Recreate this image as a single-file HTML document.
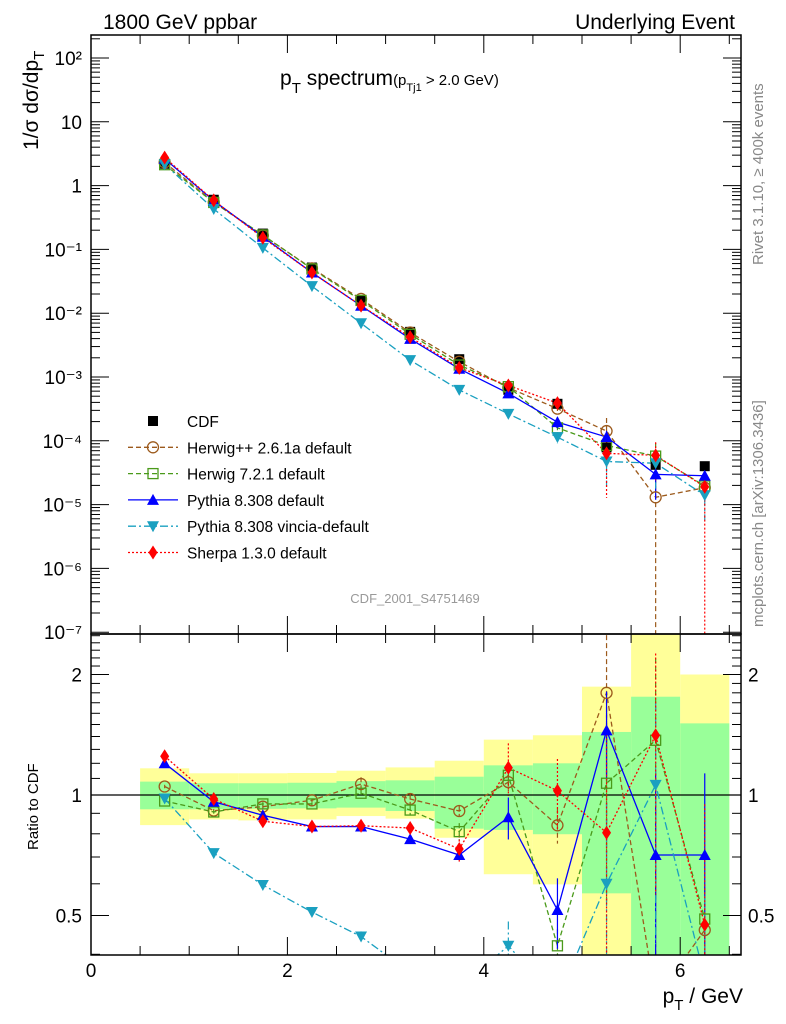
<!DOCTYPE html>
<html><head><meta charset="utf-8"><style>
html,body{margin:0;padding:0;background:#fff;width:786px;height:1024px;overflow:hidden}
svg{display:block;font-family:"Liberation Sans",sans-serif;overflow:hidden}
</style></head><body>
<svg id="c" width="786" height="1024" viewBox="0 0 786 1024" xmlns="http://www.w3.org/2000/svg">
<text x="103" y="29" font-size="21">1800 GeV ppbar</text>
<text x="735" y="29" font-size="21" text-anchor="end">Underlying Event</text>
<text x="280" y="85" font-size="21">p<tspan font-size="15" dy="8">T</tspan><tspan dy="-8"> spectrum</tspan><tspan font-size="15">(p</tspan><tspan font-size="11" dy="6">Tj1</tspan><tspan font-size="15" dy="-6"> &gt; 2.0 GeV)</tspan></text>
<text transform="translate(38,150) rotate(-90)" font-size="21">1/σ dσ/dp<tspan font-size="15" dy="6">T</tspan></text>
<text transform="translate(763,265) rotate(-90)" font-size="15" fill="#888">Rivet 3.1.10, ≥ 400k events</text>
<text transform="translate(763,627) rotate(-90)" font-size="15" fill="#888">mcplots.cern.ch [arXiv:1306.3436]</text>
<text x="415" y="603" font-size="13" fill="#999" text-anchor="middle">CDF_2001_S4751469</text>
<text transform="translate(38,850) rotate(-90)" font-size="15">Ratio to CDF</text>
<text x="743" y="1003" font-size="21" text-anchor="end">p<tspan font-size="15" dy="7">T</tspan><tspan dy="-7"> / GeV</tspan></text>
<g id="g"></g>
</svg>
<script>
const bins=[0.75,1.25,1.75,2.25,2.75,3.25,3.75,4.25,4.75,5.25,5.75,6.25];
const cdf=[2.2,0.6,0.177,0.052,0.0157,0.0051,0.0019,6.3e-4,3.8e-4,7.9e-5,4.2e-5,4.0e-5];
const rHerwigpp=[1.05,0.914,0.935,0.97,1.065,0.977,0.912,1.077,0.84,1.80,0.31,0.46];
const rHerwig7=[0.966,0.907,0.95,0.95,1.01,0.917,0.81,1.12,0.42,1.07,1.37,0.49];
const rPythia=[1.20,0.962,0.89,0.834,0.834,0.776,0.708,0.88,0.516,1.45,0.708,0.708];
const rVincia=[0.98,0.716,0.596,0.51,0.443,0.36,0.33,0.42,0.3,0.60,1.06,0.35];
const rSherpa=[1.25,0.977,0.86,0.834,0.838,0.827,0.733,1.17,1.025,0.805,1.41,0.474];
const eHerwigpp=[0.01,0.01,0.01,0.01,0.04,0.03,0.03,0.05,0.1,0.6,1.0,0.1];
const eHerwig7=[0.01,0.01,0.01,0.01,0.02,0.03,0.05,0.05,0.1,0.5,0.6,0.2];
const ePythia=[0.01,0.01,0.01,0.01,0.01,0.02,0.03,0.12,0.2,0.25,0.6,0.6];
const eVincia=[0.01,0.01,0.01,0.01,0.03,0.03,0.05,0.15,0.2,0.6,0.6,0.6];
const eSherpa=[0.01,0.01,0.02,0.01,0.03,0.03,0.08,0.15,0.2,0.8,0.6,1.0];
const yellowUp=[1.166,1.133,1.133,1.135,1.15,1.172,1.218,1.375,1.41,1.865,2.6,2.0];
const yellowDn=[0.841,0.869,0.864,0.869,0.886,0.873,0.782,0.634,0.598,0.3,0.3,0.5];
const greenUp=[1.08,1.07,1.07,1.073,1.083,1.088,1.111,1.186,1.2,1.437,1.76,1.51];
const greenDn=[0.921,0.921,0.924,0.926,0.93,0.912,0.824,0.818,0.798,0.568,0.3,0.3];
const yTickLabels=["10²","10","1","10⁻¹","10⁻²","10⁻³","10⁻⁴","10⁻⁵","10⁻⁶","10⁻⁷"];
const xTickLabels=["0","2","4","6"];

const NS="http://www.w3.org/2000/svg",G=document.getElementById('g');
const L=91,R=741,MT=35,MB=634,RT=634,RB=955;
const X=v=>L+v*98.2;
const YM=v=>Math.min(1000,v<=0?1000:58+(2-Math.log10(v))*63.8);
const YR=v=>Math.min(1000,v<=0?1000:795-Math.log2(v)*120.5);
function mk(t,a,p){const e=document.createElementNS(NS,t);for(const k in a)e.setAttribute(k,a[k]);(p||G).appendChild(e);return e;}
const defs=mk('defs',{});
const c1=mk('clipPath',{id:'cm'},defs);mk('rect',{x:L,y:MT,width:R-L,height:MB-MT},c1);
const c2=mk('clipPath',{id:'cr'},defs);mk('rect',{x:L,y:RT,width:R-L,height:RB-RT},c2);
const gm=mk('g',{'clip-path':'url(#cm)'});

const gr=mk('g',{'clip-path':'url(#cr)'});

bins.forEach((b,i)=>{
 const y=mk('rect',{x:X(b-0.25),width:98.2*0.5,y:YR(yellowUp[i]),height:YR(yellowDn[i])-YR(yellowUp[i]),fill:'#ffff99'},gr);
 
 const g=mk('rect',{x:X(b-0.25),width:98.2*0.5,y:YR(greenUp[i]),height:YR(greenDn[i])-YR(greenUp[i]),fill:'#99ff99'},gr);
 
});
mk('line',{x1:L,x2:R,y1:YR(1),y2:YR(1),stroke:'#000','stroke-width':1.3},gr);
const series=[
 {n:'herwigpp',r:rHerwigpp,e:eHerwigpp,c:'#9c5a1c',d:'5,3',m:'circle',lab:'Herwig++ 2.6.1a default'},
 {n:'herwig7',r:rHerwig7,e:eHerwig7,c:'#4a9a1a',d:'5,3',m:'square',lab:'Herwig 7.2.1 default'},
 {n:'pythia',r:rPythia,e:ePythia,c:'#0000ff',d:'',m:'tri',lab:'Pythia 8.308 default'},
 {n:'vincia',r:rVincia,e:eVincia,c:'#1aa0c0',d:'8,3,2,3',m:'itri',lab:'Pythia 8.308 vincia-default'},
 {n:'sherpa',r:rSherpa,e:eSherpa,c:'#ff0000',d:'2,2',m:'diamond',lab:'Sherpa 1.3.0 default'}];
function marker(m,x,y,c,p){
 let e;
 if(m=='circle')e=mk('circle',{cx:x,cy:y,r:5.5,fill:'none',stroke:c,'stroke-width':1.3},p);
 else if(m=='square')e=mk('rect',{x:x-5,y:y-5,width:10,height:10,fill:'none',stroke:c,'stroke-width':1.3},p);
 else if(m=='tri')e=mk('polygon',{points:`${x},${y-6} ${x-6},${y+5} ${x+6},${y+5}`,fill:c},p);
 else if(m=='itri')e=mk('polygon',{points:`${x},${y+6} ${x-6},${y-5} ${x+6},${y-5}`,fill:c},p);
 else if(m=='diamond')e=mk('polygon',{points:`${x},${y-7} ${x-4.5},${y} ${x},${y+7} ${x+4.5},${y}`,fill:c},p);
 else e=mk('rect',{x:x-5,y:y-5,width:10,height:10,fill:c},p);
 return e;
}
series.forEach(s=>{
 const pm=bins.map((b,i)=>X(b)+','+YM(cdf[i]*s.r[i])).join(' ');
 const l1=mk('polyline',{points:pm,fill:'none',stroke:s.c,'stroke-width':1.3,'stroke-dasharray':s.d},gm);
 
 const pr=bins.map((b,i)=>X(b)+','+YR(s.r[i])).join(' ');
 const l2=mk('polyline',{points:pr,fill:'none',stroke:s.c,'stroke-width':1.3,'stroke-dasharray':s.d},gr);
 
 bins.forEach((b,i)=>{
  const r=s.r[i],e=s.e[i];
  const eb=mk('line',{x1:X(b),x2:X(b),y1:YR(r*(1+e)),y2:YR(r*(1-e)),stroke:s.c,'stroke-width':1.2,'stroke-dasharray':s.d},gr);
  
  const em=mk('line',{x1:X(b),x2:X(b),y1:YM(cdf[i]*r*(1+e)),y2:YM(cdf[i]*r*(1-e)),stroke:s.c,'stroke-width':1.2,'stroke-dasharray':s.d},gm);
  
 });
});
bins.forEach((b,i)=>{
 const e=marker('data',X(b),YM(cdf[i]),'#000',gm);
 
});
series.forEach(s=>{
 bins.forEach((b,i)=>{
  const e=marker(s.m,X(b),YM(cdf[i]*s.r[i]),s.c,gm);
  
  const f=marker(s.m,X(b),YR(s.r[i]),s.c,gr);
  
 });
});
mk('rect',{x:L,y:MT,width:R-L,height:MB-MT,fill:'none',stroke:'#000','stroke-width':1.5});
mk('rect',{x:L,y:RT,width:R-L,height:RB-RT,fill:'none',stroke:'#000','stroke-width':1.5});
for(let v=0;v<=6.5;v+=0.5){
 const maj=v%2==0,h=maj?18:9;
 [[MT,1],[RT,-1],[RT,1],[RB,-1]].forEach(([y0,d])=>mk('line',{x1:X(v),x2:X(v),y1:y0,y2:y0+d*h,stroke:'#000'}));
}
xTickLabels.forEach((t,i)=>{const e=mk('text',{x:X(i*2),y:977,'font-size':19,'text-anchor':'middle'});e.textContent=t;
 });
yTickLabels.forEach((t,i)=>{
 const y=58+i*63.8;
 mk('line',{x1:L,x2:L+18,y1:y,y2:y,stroke:'#000'});mk('line',{x1:R,x2:R-18,y1:y,y2:y,stroke:'#000'});
 for(let k=2;k<=9;k++){const yy=y-Math.log10(k)*63.8;if(yy<MT)continue;
  mk('line',{x1:L,x2:L+9,y1:yy,y2:yy,stroke:'#000'});mk('line',{x1:R,x2:R-9,y1:yy,y2:yy,stroke:'#000'});}
 const e=mk('text',{x:82,y:y+7,'font-size':19,'text-anchor':'end'});e.textContent=t;
 
});
for(let k=4;k<=25;k++){const v=k/10;const y=YR(v);if(y<RT||y>RB)continue;
 const maj=(v==0.5||v==1||v==2),h=maj?18:9;
 mk('line',{x1:L,x2:L+h,y1:y,y2:y,stroke:'#000'});mk('line',{x1:R,x2:R-h,y1:y,y2:y,stroke:'#000'});}
[[0.5,'0.5'],[1,'1'],[2,'2']].forEach(([v,t])=>{
 const a=mk('text',{x:82,y:YR(v)+7,'font-size':19,'text-anchor':'end'});a.textContent=t;
 
 const b=mk('text',{x:748,y:YR(v)+7,'font-size':19});b.textContent=t;
 
});
const leg=[{m:'data',c:'#000',d:null,lab:'CDF',n:'cdf'}].concat(series);
leg.forEach((s,i)=>{
 const y=421+i*26.3;
 const g=mk('g',{});
 
 if(s.d!==null)mk('line',{x1:128,x2:178,y1:y,y2:y,stroke:s.c,'stroke-width':1.3,'stroke-dasharray':s.d},g);
 marker(s.m,153,y,s.c,g);
 const t=mk('text',{x:187,y:y+6,'font-size':15.5},g);t.textContent=s.lab;
});
</script>
</body></html>
